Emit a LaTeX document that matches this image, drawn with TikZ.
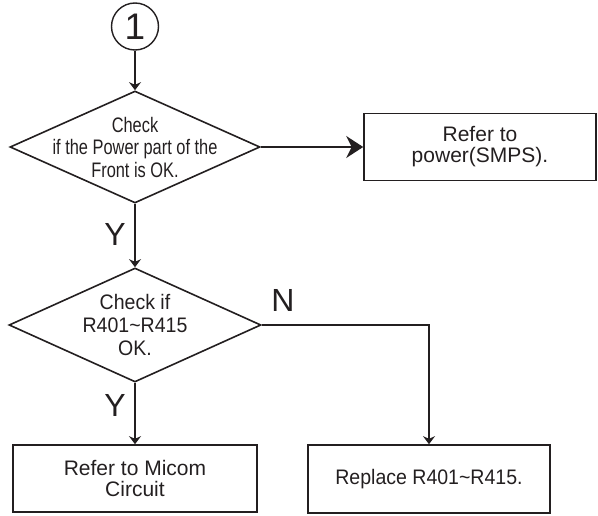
\documentclass[tikz,border=0pt]{standalone}
\usepackage{fontspec}
\setmainfont{Liberation Sans}
\newfontfamily\narrowsf{Liberation Sans}[FakeStretch=0.78]
\newfontfamily\boxsf{Liberation Sans}[FakeStretch=0.93]
\usepackage{tikz}
\usetikzlibrary{shapes.geometric,arrows.meta}
\definecolor{ink}{HTML}{231F20}
\tikzset{
  box/.style={draw=ink, line width=1.6pt, rectangle, inner sep=0pt, align=center, text=ink, font=\fontsize{21}{21}\selectfont},
  decision/.style={draw=ink, line width=1.6pt, diamond, inner sep=0pt},
  dtext/.style={align=center, text=ink, font=\boxsf\fontsize{21}{23}\selectfont},
  flow/.style={draw=ink, line width=1.4pt, -{Stealth[length=8pt, width=12pt]}},
  bigflow/.style={draw=ink, line width=1.4pt, -{Stealth[length=17pt, width=22pt]}},
  yn/.style={text=ink, font=\fontsize{32}{32}\selectfont, inner sep=0pt},
}
\begin{document}
\begin{tikzpicture}[x=1pt, y=-1pt]
\useasboundingbox (0,0) rectangle (598,516);

\node[draw=ink, line width=1.4pt, circle, minimum size=47pt, inner sep=0pt, text=ink, font=\fontsize{37}{37}\selectfont] (start) at (135,26.5) {1};

\node[decision, minimum width=250pt, minimum height=112pt,
  label={[dtext, font=\narrowsf\fontsize{21}{22.5}\selectfont]center:{Check\\if the Power part of the\\Front is OK.}}] (chkpower) at (135,147) {};
\node[box, minimum width=232pt, minimum height=67pt] (smps) at (480,147) {Refer to\\power(SMPS).};

\node[decision, minimum width=252pt, minimum height=114pt,
  label={[dtext]center:{Check if\\R401\textasciitilde R415\\OK.}}] (chkres) at (135,325) {};
\node[box, minimum width=244pt, minimum height=67pt] (micom) at (135,478.5) {Refer to Micom\\Circuit};
\node[box, minimum width=242pt, minimum height=68pt, font=\boxsf\fontsize{21}{21}\selectfont] (replace) at (429,479) {Replace R401\textasciitilde R415.};

\node[yn] (y1) at (115,234) {Y};
\node[yn] (y2) at (115,405) {Y};
\node[yn] (n1) at (283,300) {N};

\draw[flow] (start) -- (chkpower);
\draw[bigflow] (chkpower.east) -- (smps.west);
\draw[flow] (chkpower) -- (chkres);
\draw[flow] (chkres.east) -| (replace.north);
\draw[flow] (chkres) -- (micom);
\end{tikzpicture}
\end{document}
